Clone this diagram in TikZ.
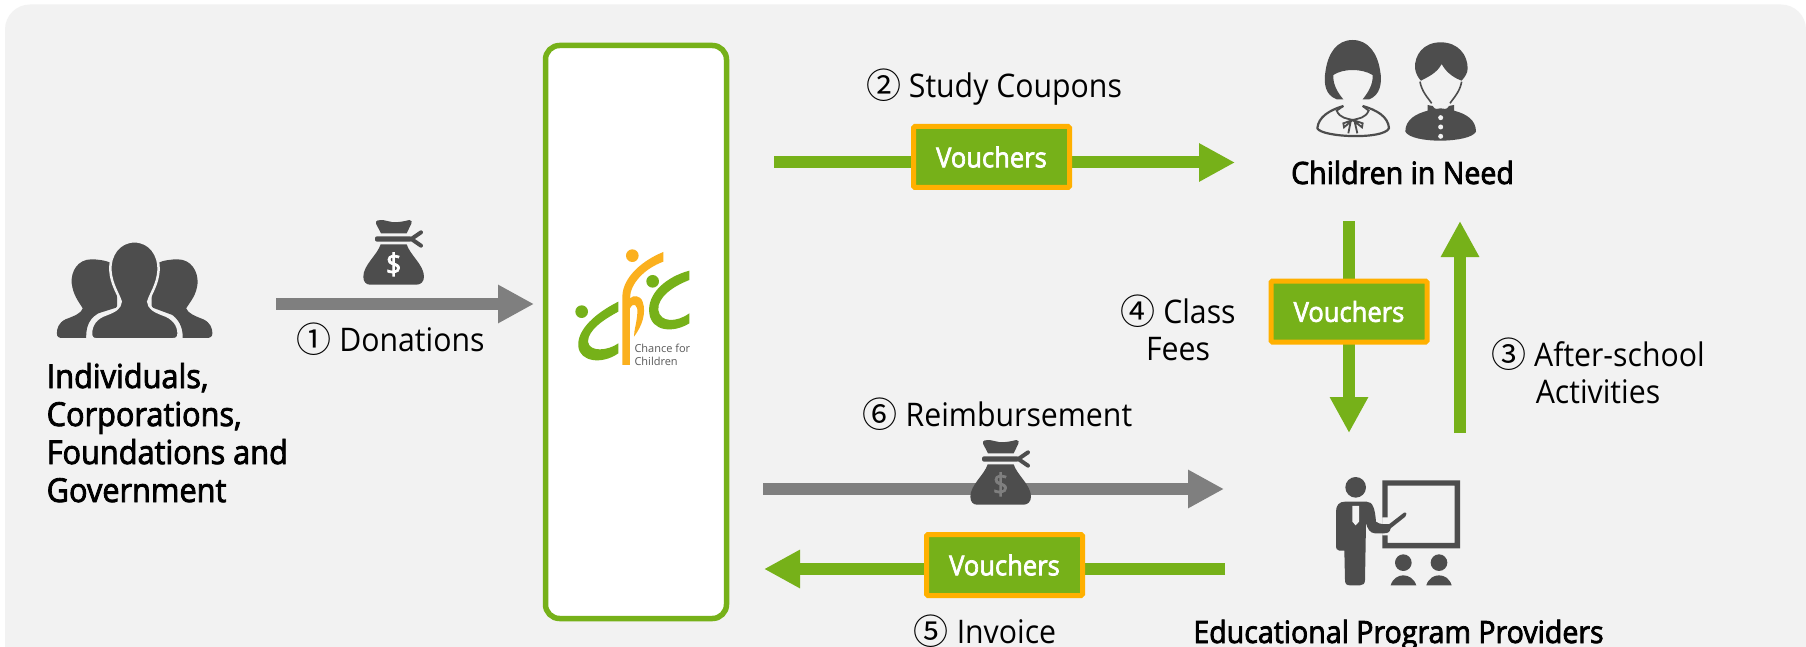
\documentclass[tikz,border=0pt]{standalone}
\usepackage{fontspec}
\setmainfont{Open Sans}
\newfontfamily\semi[FakeBold=2.5,FakeStretch=0.93]{Open Sans}
\newfontfamily\reg[FakeStretch=0.93]{Open Sans}
\newfontfamily\circled{Noto Sans CJK JP}
\usetikzlibrary{arrows.meta}
\definecolor{grn}{HTML}{76B119}
\definecolor{org}{HTML}{FFB000}
\definecolor{gry}{HTML}{7F7F7F}
\definecolor{icon}{HTML}{4D4D4D}
\definecolor{bgc}{HTML}{F2F2F2}
\definecolor{logoorg}{HTML}{FBB01E}
\tikzset{
 x=1pt,y=-1pt,
 greenarrow/.style={draw=grn,line width=12pt,-{Triangle[length=36pt,width=36pt]}},
 grayarrow/.style={draw=gry,line width=12pt,-{Triangle[length=36pt,width=36pt]}},
 voucher/.style={draw=org,line width=5pt,fill=grn,rounded corners=1.5pt,minimum width=156pt,minimum height=61pt,inner sep=0pt,text=white,font={\semi\fontsize{27.5}{30}\selectfont}},
 lbl/.style={inner sep=0pt,font={\reg\fontsize{32.5}{37}\selectfont},align=center,anchor=base,text=black},
 head/.style={inner sep=0pt,font={\semi\fontsize{30.7}{39.6}\selectfont},align=left,text=black},
}
\newcommand{\cnum}[1]{\smash{\raisebox{-1pt}{\circled\fontsize{35}{35}\selectfont #1}}}
\newcommand{\moneybag}[3]{%
\begin{scope}[shift={(#1,#2)},x=0.3333pt,y=-0.3333pt]
 \fill[icon] (78,20) .. controls (80,14) and (100,14) .. (112,18) .. controls (130,24) and (150,22) .. (178,15) .. controls (186,14) and (186,22) .. (184,26) -- (170,55) -- (93,55) -- (78,26) -- cycle;
 \fill[icon,rounded corners=2pt] (75,64) rectangle (186,80);
 \draw[icon,line width=4pt,line cap=round] (184,72) -- (213,52) (184,72) -- (213,92);
 \fill[icon] (92,88) -- (170,88) .. controls (180,120) and (222,150) .. (222,185) .. controls (222,200) and (212,209) .. (200,209) -- (60,209) .. controls (48,209) and (40,200) .. (40,185) .. controls (40,150) and (82,120) .. (92,88) -- cycle;
 \node[inner sep=0pt,text=#3,font={\semi\fontsize{29}{29}\selectfont}] at (131,148) {\$};
\end{scope}}
\begin{document}
\begin{tikzpicture}
\useasboundingbox (0,0) rectangle (1806,647);
\fill[white] (0,0) rectangle (1806,647);
\fill[bgc,rounded corners=25pt] (5,4.5) rectangle (1806,700);
% logo box
\node[draw=grn,line width=5.5pt,fill=white,rounded corners=14pt,minimum width=181pt,minimum height=573pt,inner sep=0pt] (logobox) at (636,332) {};
% logo
\begin{scope}[shift={(530,230)},x=0.3333pt,y=-0.3333pt]
 \fill[grn] (155,245) circle[radius=19];
 \fill[grn] (368,154) circle[radius=19];
 \fill[logoorg] (307,77) circle[radius=19];
 \fill[grn] (265,215) .. controls (195,250) and (140,300) .. (145,350) .. controls (150,395) and (215,405) .. (265,370) -- (265,340) .. controls (235,362) and (178,368) .. (174,335) .. controls (174,300) and (222,268) .. (265,245) -- cycle;
 \fill[grn] (478,122) .. controls (410,140) and (350,190) .. (358,250) .. controls (365,305) and (430,310) .. (478,280) -- (478,250) .. controls (440,278) and (390,278) .. (385,240) .. controls (382,200) and (432,168) .. (478,150) -- cycle;
 \fill[logoorg] (400,66) .. controls (340,90) and (278,140) .. (277,200) -- (277,405) -- (300,405) -- (300,235) .. controls (310,215) and (325,225) .. (322,250) .. controls (320,280) and (312,300) .. (312,320) .. controls (335,290) and (350,250) .. (338,215) .. controls (330,195) and (310,195) .. (300,205) .. controls (300,160) and (345,115) .. (400,95) -- cycle;
 \node[inner sep=0pt,anchor=west,align=left,text=black!65,font={\fontsize{11}{13}\selectfont}] (logotext) at (313,376) {Chance for\\Children};
\end{scope}
% coordinates for connectors
\coordinate (d1) at (276,304); \coordinate (d2) at (534,304);
\coordinate (s1) at (774,162.5); \coordinate (s2) at (1235,162.5);
\coordinate (f1) at (1349,221); \coordinate (f2) at (1349,433);
\coordinate (a1) at (1460,433); \coordinate (a2) at (1460,221);
\coordinate (r1) at (763,489); \coordinate (r2) at (1224,489);
\coordinate (i1) at (1225,569); \coordinate (i2) at (764,569);
\draw[grayarrow] (d1) -- (d2);
\draw[greenarrow] (s1) -- (s2);
\draw[greenarrow] (f1) -- (f2);
\draw[greenarrow] (a1) -- (a2);
\draw[grayarrow] (r1) -- (r2);
\draw[greenarrow] (i1) -- (i2);
\node[voucher] (v1) at (991.5,157) {\raisebox{-1.5pt}{Vouchers}};
\node[voucher] (v2) at (1349,311.5) {\raisebox{-1.5pt}{Vouchers}};
\node[voucher] (v3) at (1004.5,565) {\raisebox{-1.5pt}{Vouchers}};
\moneybag{350}{215}{white}
\moneybag{957}{435}{gry}
% labels
\node[lbl] (t1) at (390.5,351) {\cnum{①} Donations};
\node[lbl] (t2) at (994,98) {\cnum{②} Study Coupons};
\node[lbl] (t3) at (1598,403) {\cnum{③} After-school\\Activities};
\node[lbl] (t4) at (1178,360) {\cnum{④} Class\\Fees};
\node[lbl] (t5) at (985,643) {\cnum{⑤} Invoice};
\node[lbl] (t6) at (997.5,426) {\cnum{⑥} Reimbursement};
\node[head,anchor=base west,font={\semi\fontsize{33}{38}\selectfont}] (donors) at (46.5,502) {Individuals,\\Corporations,\\Foundations and\\Government};
\node[head,anchor=base] (kids) at (1402.5,184) {Children in Need};
\node[head,anchor=base] (prov) at (1398.5,643) {Educational Program Providers};
% people icon
\begin{scope}[shift={(0,200)},x=0.3448pt,y=-0.3333pt]
 \fill[icon] (265,178) .. controls (225,178) and (205,215) .. (208,250) .. controls (212,285) and (228,305) .. (240,325) .. controls (236,340) and (215,348) .. (190,358) .. controls (170,368) and (165,385) .. (165,400) .. controls (165,410) and (170,414) .. (180,414) -- (250,414) .. controls (250,390) and (252,360) .. (285,340) -- (340,322) .. controls (340,310) and (340,285) .. (340,262) .. controls (340,240) and (340,205) .. (325,190) .. controls (305,180) and (280,178) .. (265,178) -- cycle;
 \fill[icon] (515,178) .. controls (555,178) and (575,215) .. (573,250) .. controls (570,285) and (552,305) .. (540,325) .. controls (545,340) and (565,348) .. (590,358) .. controls (610,368) and (616,385) .. (616,400) .. controls (616,410) and (610,414) .. (600,414) -- (530,414) .. controls (530,390) and (525,365) .. (500,345) -- (440,322) .. controls (440,300) and (440,280) .. (440,262) .. controls (440,240) and (440,205) .. (455,190) .. controls (475,180) and (500,178) .. (515,178) -- cycle;
 \path[fill=icon,draw=bgc,line width=2.5pt] (390,124) .. controls (345,124) and (318,165) .. (320,210) .. controls (323,255) and (343,280) .. (350,305) .. controls (348,325) and (333,333) .. (308,343) .. controls (278,353) and (264,375) .. (264,400) .. controls (264,412) and (268,418) .. (280,418) -- (500,418) .. controls (514,418) and (518,412) .. (518,400) .. controls (518,375) and (502,353) .. (472,343) .. controls (447,333) and (432,325) .. (430,305) .. controls (437,280) and (457,255) .. (460,210) .. controls (462,165) and (435,124) .. (390,124) -- cycle;
\end{scope}
% children icon
\begin{scope}[shift={(1280,20)},x=0.3333pt,y=-0.3333pt]
 \fill[icon] (218,60) .. controls (170,60) and (145,100) .. (137,150) .. controls (130,190) and (135,225) .. (170,238) -- (190,238) .. controls (175,220) and (158,195) .. (160,165) .. controls (190,145) and (245,145) .. (278,165) .. controls (280,195) and (262,220) .. (248,238) -- (268,238) .. controls (300,225) and (308,190) .. (300,150) .. controls (292,100) and (265,60) .. (218,60) -- cycle;
 \draw[icon,line width=2.2pt,line join=round] (190,258) .. controls (150,270) and (115,290) .. (112,325) .. controls (125,352) and (310,360) .. (327,325) .. controls (325,290) and (290,270) .. (248,258);
 \draw[icon,line width=1.8pt] (190,258) -- (170,272) .. controls (180,295) and (200,295) .. (218,300) .. controls (236,295) and (256,295) .. (266,272) -- (248,258);
 \draw[icon,line width=1.8pt] (218,300) -- (190,310) -- (192,322) -- (218,300) -- (248,310) -- (246,322) -- cycle (212,305) -- (205,340) (224,305) -- (232,340);
 \fill[icon] (482,67) .. controls (430,67) and (403,105) .. (405,145) .. controls (407,160) and (415,175) .. (423,182) .. controls (445,170) and (470,160) .. (485,132) .. controls (500,160) and (525,175) .. (545,182) .. controls (555,170) and (563,160) .. (563,145) .. controls (563,105) and (535,67) .. (482,67) -- cycle;
 \draw[icon,line width=1.6pt] (420,185) .. controls (425,215) and (445,235) .. (455,250) (545,185) .. controls (540,215) and (520,235) .. (510,250);
 \fill[icon] (443,255) -- (458,258) .. controls (465,272) and (475,265) .. (482,265) .. controls (490,265) and (500,272) .. (507,258) -- (522,255) -- (522,272) .. controls (560,282) and (588,300) .. (588,335) .. controls (570,370) and (395,372) .. (376,335) .. controls (376,300) and (405,282) .. (443,272) -- cycle;
 \fill[bgc] (482,293) circle[radius=7.5] (482,321) circle[radius=7.5] (482,349) circle[radius=7.5];
\end{scope}
% teacher icon
\begin{scope}[shift={(1300,460)},x=0.3333pt,y=-0.3333pt]
 \fill[icon] (167,82) circle[radius=31];
 \fill[icon] (135,125) -- (200,125) .. controls (218,125) and (225,145) .. (228,185) .. controls (240,195) and (255,192) .. (268,192) -- (312,158) .. controls (320,155) and (322,165) .. (316,170) -- (272,205) .. controls (270,218) and (262,220) .. (250,220) -- (225,220) .. controls (210,220) and (202,205) .. (198,190) -- (195,360) .. controls (195,372) and (188,376) .. (180,376) -- (150,376) .. controls (140,376) and (135,372) .. (135,360) -- (133,272) -- (118,272) .. controls (110,272) and (108,265) .. (108,255) -- (108,155) .. controls (108,135) and (118,125) .. (135,125) -- cycle;
 \fill[bgc] (157,138) -- (177,138) -- (177,185) -- (167,196) -- (157,185) -- cycle;
 \fill[icon,even odd rule] (247,61) rectangle (480,265) (263,77) -- (263,172) -- (247,172) -- (247,226) -- (263,226) -- (263,249) -- (464,249) -- (464,77) -- cycle;
 \fill[icon] (310,308) circle[radius=25] (417,308) circle[radius=25];
 \fill[icon] (272,376) .. controls (278,355) and (295,346) .. (310,346) .. controls (325,346) and (342,355) .. (349,376) -- cycle;
 \fill[icon] (379,376) .. controls (385,355) and (402,346) .. (417,346) .. controls (432,346) and (449,355) .. (455,376) -- cycle;
\end{scope}
\end{tikzpicture}
\end{document}
